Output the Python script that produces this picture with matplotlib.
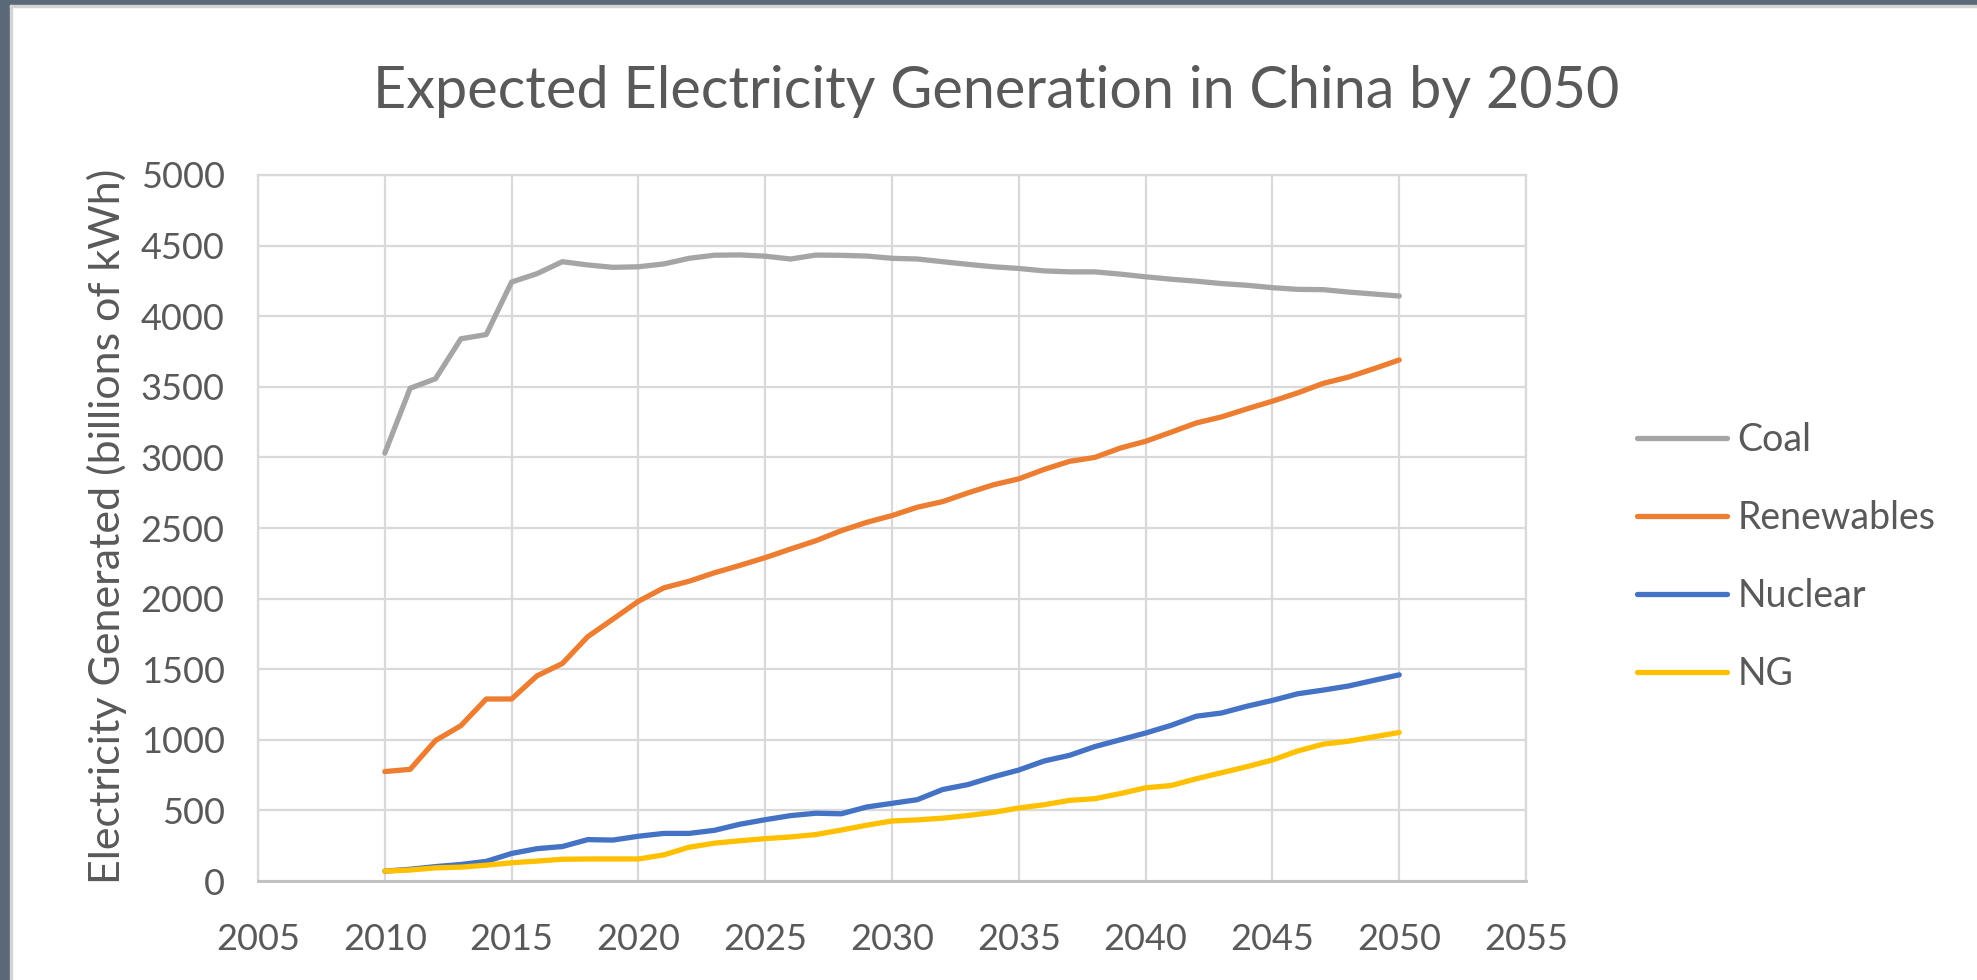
import matplotlib
matplotlib.use("Agg")
import matplotlib.pyplot as plt
from matplotlib.patches import Rectangle

years = list(range(2010, 2051))

coal = [3030, 3490, 3557, 3840, 3870, 4242, 4301, 4386, 4363, 4346,
        4350, 4370, 4410, 4432, 4434, 4425, 4405, 4433, 4431, 4426,
        4410, 4405, 4386, 4367, 4350, 4338, 4321, 4314, 4314, 4298,
        4279, 4262, 4248, 4231, 4219, 4202, 4190, 4188, 4171, 4157, 4143]

renewables = [775, 791, 995, 1100, 1289, 1289, 1453, 1540, 1730, 1855,
              1981, 2076, 2123, 2183, 2235, 2290, 2351, 2410, 2481, 2540,
              2588, 2647, 2687, 2749, 2806, 2848, 2915, 2972, 3000, 3066,
              3114, 3178, 3244, 3287, 3344, 3398, 3457, 3524, 3569, 3628, 3690]

nuclear = [70, 83, 102, 117, 139, 195, 229, 244, 293, 290,
           317, 337, 337, 359, 402, 434, 463, 480, 476, 524,
           550, 576, 648, 683, 738, 786, 850, 890, 952, 1000,
           1048, 1102, 1167, 1190, 1238, 1279, 1326, 1352, 1381, 1421, 1460]

ng = [70, 78, 93, 98, 112, 129, 141, 154, 156, 156,
      156, 185, 239, 268, 285, 300, 312, 329, 361, 395,
      425, 433, 445, 464, 486, 517, 540, 571, 583, 619,
      660, 676, 724, 767, 810, 857, 921, 969, 990, 1021, 1052]

series_names = ["Coal", "Renewables", "Nuclear", "NG"]
series_colors = ["#A5A5A5", "#ED7D31", "#4472C4", "#FFC000"]

x_ticks = list(range(2005, 2056, 5))
y_ticks = list(range(0, 5001, 500))

title = "Expected Electricity Generation in China by 2050"
y_label = "Electricity Generated (billions of kWh)"

FONT = "Lato"
TXT = "#595959"

W, H = 1977, 980
fig = plt.figure(figsize=(W / 100, H / 100), dpi=100)
fig.patch.set_facecolor("white")

ax = fig.add_axes([258 / W, 1 - 881 / H, (1526 - 258) / W, (881 - 175) / H])

for vals, name, col in zip([coal, renewables, nuclear, ng], series_names, series_colors):
    ax.plot(years, vals, color=col, lw=3.8, label=name, solid_joinstyle="round",
            solid_capstyle="round", zorder=3)

ax.set_xlim(2005, 2055)
ax.set_ylim(0, 5000)
ax.set_xticks(x_ticks)
ax.set_yticks(y_ticks)
ax.grid(True, color="#D9D9D9", lw=1.6, zorder=0)
ax.set_axisbelow(True)
for s in ["top", "right", "left"]:
    ax.spines[s].set_color("#D9D9D9")
    ax.spines[s].set_linewidth(1.6)
ax.spines["bottom"].set_color("#BFBFBF")
ax.spines["bottom"].set_linewidth(2.0)
ax.tick_params(length=0, labelsize=26, labelcolor=TXT, pad=0)
ax.tick_params(axis="x", pad=30)
ax.tick_params(axis="y", pad=24)
for lab in ax.get_xticklabels() + ax.get_yticklabels():
    lab.set_fontfamily(FONT)

fig.text(996 / W, 1 - 91 / H, title, ha="center", va="center",
         fontsize=41.5, color=TXT, family=FONT)
fig.text(107 / W, 1 - 526 / H, y_label, ha="center", va="center", rotation=90,
         fontsize=31, color=TXT, family=FONT)

leg = ax.legend(loc="center left", bbox_to_anchor=(1637 / W, 1 - 557 / H),
                bbox_transform=fig.transFigure, frameon=False,
                prop={"family": FONT, "size": 27}, handlelength=2.4,
                handletextpad=0.28, labelspacing=1.12, borderpad=0, borderaxespad=0)
for t in leg.get_texts():
    t.set_color(TXT)

# window frame decoration
fig.patches.append(Rectangle((0, 0), 10 / W, 1, transform=fig.transFigure,
                             color="#5B6878", zorder=10))
fig.patches.append(Rectangle((0, 1 - 5 / H), 1, 5 / H, transform=fig.transFigure,
                             color="#5B6878", zorder=10))
fig.patches.append(Rectangle((10 / W, 0), 2 / W, 1 - 5 / H, transform=fig.transFigure,
                             color="#D4D4D4", zorder=10))
fig.patches.append(Rectangle((10 / W, 1 - 7 / H), 1, 2 / H, transform=fig.transFigure,
                             color="#D4D4D4", zorder=10))

fig.savefig("out.png", dpi=100, facecolor="white")
